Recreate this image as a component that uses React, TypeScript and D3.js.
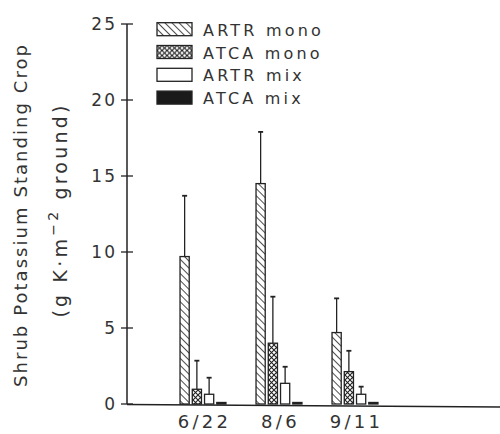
import React from "react";
import * as d3 from "d3";

const dates = ["6/22", "8/6", "9/11"];
const seriesNames = ["ARTR mono", "ATCA mono", "ARTR mix", "ATCA mix"];
const artrMono = [9.7, 14.5, 4.7];
const artrMonoErr = [4.0, 3.4, 2.25];
const atcaMono = [0.97, 4.0, 2.13];
const atcaMonoErr = [1.88, 3.06, 1.37];
const artrMix = [0.64, 1.36, 0.64];
const artrMixErr = [1.09, 1.09, 0.5];
const atcaMix = [0.1, 0.1, 0.1];
const atcaMixErr = [0, 0, 0];
const yTicks = [0, 5, 10, 15, 20, 25];

const values = [artrMono, atcaMono, artrMix, atcaMix];
const errors = [artrMonoErr, atcaMonoErr, artrMixErr, atcaMixErr];
const fills = ["url(#hatch)", "url(#cross)", "#fff", "#1a1a1a"];

const INK = "#222";
const TXT = "#333";
const FONT = "'DejaVu Sans', sans-serif";

export default function App() {
  const W = 500, H = 434;
  const axisX = 127;
  const y = d3.scaleLinear().domain([0, 25]).range([404, 24]);
  const x0 = d3.scaleBand<string>().domain(dates).range([165, 393]).paddingInner(0);
  const x1 = d3.scaleBand<string>().domain(seriesNames).range([-24.5, 24.5]).paddingInner(0.25).paddingOuter(0.125);
  const bw = x1.bandwidth();

  return (
    <svg width={W} height={H} style={{ position: "absolute", left: 0, top: 0, background: "#fff" }}>
      <defs>
        <pattern id="hatch" patternUnits="userSpaceOnUse" width="5" height="5" patternTransform="rotate(-45)">
          <rect width="5" height="5" fill="#fff" />
          <line x1="0" y1="0" x2="0" y2="5" stroke={INK} strokeWidth="1.6" />
        </pattern>
        <pattern id="cross" patternUnits="userSpaceOnUse" width="5" height="5">
          <rect width="5" height="5" fill="#fff" />
          <path d="M0,0 L5,5 M5,0 L0,5" stroke={INK} strokeWidth="1.1" />
        </pattern>
      </defs>

      {/* y axis */}
      <line x1={axisX} x2={axisX} y1={y(25)} y2={y(0)} stroke={INK} strokeWidth={1.5} />
      <line x1={axisX} x2={500} y1={y(0) + 0.5} y2={y(0) + 3} stroke={INK} strokeWidth={1.5} />
      {yTicks.map((t) => (
        <g key={t}>
          <line x1={axisX - 6} x2={axisX + 6} y1={y(t)} y2={y(t)} stroke={INK} strokeWidth={1.3} />
          <text x={117} y={y(t) + 6} textAnchor="end" fontFamily={FONT} fontSize={17} fill={TXT} letterSpacing={2}>
            {t}
          </text>
        </g>
      ))}

      {/* bars */}
      {dates.map((d, i) => (
        <g key={d} transform={`translate(${x0(d)! + x0.bandwidth() / 2},0)`}>
          {seriesNames.map((s, k) => {
            const v = values[k][i];
            const e = errors[k][i];
            const bx = x1(s)!;
            const cx = bx + bw / 2;
            return (
              <g key={s}>
                {e > 0 && (
                  <g stroke={INK} strokeWidth={1.3}>
                    <line x1={cx} x2={cx} y1={y(v)} y2={y(v + e)} />
                    <line x1={cx - 2.5} x2={cx + 2.5} y1={y(v + e)} y2={y(v + e)} strokeWidth={1.8} />
                  </g>
                )}
                <rect x={bx} y={y(v)} width={bw} height={y(0) - y(v)} fill={fills[k]} stroke={INK} strokeWidth={1.3} />
              </g>
            );
          })}
          <text x={1.5} y={428} textAnchor="middle" fontFamily={FONT} fontSize={18} fill={TXT} letterSpacing={3.3}>
            {d}
          </text>
        </g>
      ))}

      {/* legend */}
      {seriesNames.map((s, k) => (
        <g key={s} transform={`translate(157,${22.7 + k * 22.8})`}>
          <rect x={0} y={0} width={35} height={13} fill={fills[k]} stroke={INK} strokeWidth={1.3} />
          <text x={46} y={13} fontFamily={FONT} fontSize={16} fill={TXT} letterSpacing={3.2}>
            {s}
          </text>
        </g>
      ))}

      {/* y title */}
      <g transform="rotate(-90)" fontFamily={FONT} fill={TXT}>
        <text x={-387} y={27} fontSize={18} textLength={342} lengthAdjust="spacing">
          Shrub Potassium Standing Crop
        </text>
        <text x={-210} y={67} fontSize={19} textAnchor="middle" letterSpacing={3.2}>
          (g K·m<tspan dy={-9} fontSize={14}>−2</tspan>
          <tspan dy={9}> ground)</tspan>
        </text>
      </g>
    </svg>
  );
}
